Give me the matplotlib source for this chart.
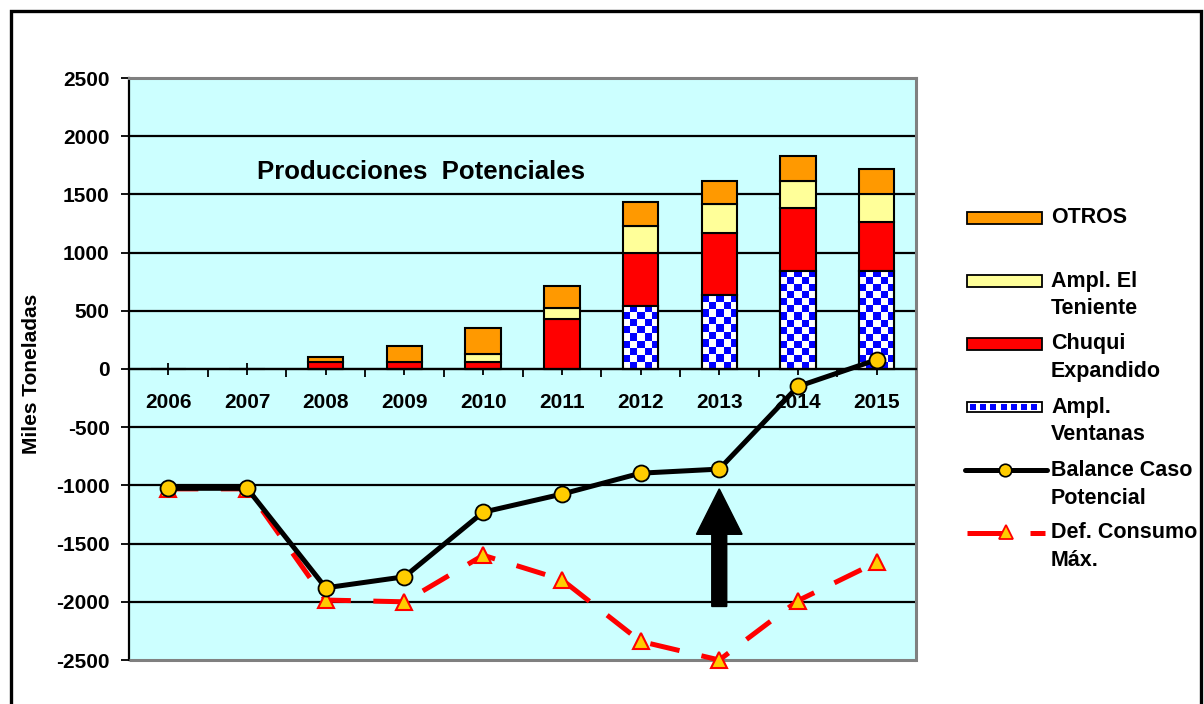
import numpy as np
import matplotlib
matplotlib.use("Agg")
import matplotlib.pyplot as plt
from matplotlib.patches import Rectangle, FancyArrow
from matplotlib.lines import Line2D

plt.rcParams['font.family'] = ['Liberation Sans', 'DejaVu Sans']
plt.rcParams['font.weight'] = 'bold'
plt.rcParams['axes.unicode_minus'] = False

# Datos (miles de toneladas)
anios = ['2006', '2007', '2008', '2009', '2010', '2011', '2012', '2013', '2014', '2015']
ventanas = [0, 0, 0, 0, 0, 0, 545, 640, 845, 845]
chuqui = [0, 0, 60, 60, 60, 430, 455, 525, 540, 420]
teniente = [0, 0, 0, 0, 70, 90, 230, 250, 230, 235]
otros = [0, 0, 40, 140, 220, 195, 205, 200, 215, 215]
balance = [-1025, -1025, -1880, -1785, -1230, -1075, -895, -860, -150, 80]
def_consumo = [-1030, -1030, -1985, -2000, -1600, -1810, -2340, -2500, -1990, -1660]

y_ticks = list(range(-2500, 2501, 500))
titulo = "Producciones  Potenciales"
flecha_anio = 7          # 2013
flecha_y = (-2040, -1030)

c_otros = '#FF9900'
c_teniente = '#FFFF99'
c_chuqui = '#FF0000'
c_azul = '#0000FF'
c_fondo = '#CCFFFF'
c_marc = '#FFCC00'

W, H = 1204, 704
fig = plt.figure(figsize=(W / 100, H / 100), dpi=100)
ax = fig.add_axes([129 / W, 1 - 660 / H, 787 / W, 582 / H])
ax.set_facecolor(c_fondo)

x = np.arange(len(anios))
ancho = 0.45
ax.set_xlim(-0.5, len(anios) - 0.5)
ax.set_ylim(-2500, 2500)

# grilla horizontal
for yv in y_ticks[1:-1]:
    ax.axhline(yv, color='black', lw=1.6, zorder=1)

# barras apiladas
ventanas = np.array(ventanas)
chuqui = np.array(chuqui)
teniente = np.array(teniente)
otros = np.array(otros)
fig.canvas.draw()
px_y = ax.transData.transform((0, 1))[1] - ax.transData.transform((0, 0))[1]

barras_v = ax.bar(x, ventanas, ancho, color='white', edgecolor='black', lw=1.5, zorder=3)
for b, h in zip(barras_v, ventanas):
    if h <= 0:
        continue
    filas = max(1, int(round(h * px_y / 7.2)))
    tablero = (np.indices((filas, 5)).sum(axis=0) % 2).astype(float)
    x0 = b.get_x()
    img = ax.imshow(tablero, cmap=matplotlib.colors.ListedColormap(['white', c_azul]),
                    extent=[x0, x0 + ancho, 0, h], aspect='auto', interpolation='nearest',
                    origin='lower', zorder=3.5)
    img.set_clip_path(b)
    ax.add_patch(Rectangle((x0, 0), ancho, h, fill=False, edgecolor='black', lw=1.5, zorder=3.6))

base = ventanas.copy()
for vals, col in [(chuqui, c_chuqui), (teniente, c_teniente), (otros, c_otros)]:
    m = vals > 0
    ax.bar(x[m], vals[m], ancho, bottom=base[m], color=col, edgecolor='black', lw=1.5, zorder=3)
    base = base + vals
ax.set_xlim(-0.5, len(anios) - 0.5)
ax.set_ylim(-2500, 2500)

# lineas
ax.plot(x, def_consumo, color='red', lw=3.6, dashes=(6, 4.5), marker='^', markersize=12,
        markerfacecolor=c_marc, markeredgecolor='red', markeredgewidth=1.5, zorder=10,
        clip_on=False)
ax.plot(x, balance, color='black', lw=3.6, marker='o', markersize=11.5,
        markerfacecolor=c_marc, markeredgecolor='black', markeredgewidth=1.3, zorder=11,
        clip_on=False)

# flecha
ax.add_patch(FancyArrow(flecha_anio, flecha_y[0], 0, flecha_y[1] - flecha_y[0], width=0.19,
                        head_width=0.58, head_length=390, length_includes_head=True,
                        color='black', zorder=7))

ax.text(0.371, 0.8385, titulo, transform=ax.transAxes, ha='center', va='center',
        fontsize=18.5, fontweight='bold', zorder=8)

# ejes
ax.spines['bottom'].set_position(('data', 0))
ax.spines['bottom'].set_color('black')
ax.spines['bottom'].set_linewidth(1.6)
ax.spines['bottom'].set_zorder(4)
ax.spines['left'].set_color('black')
ax.spines['left'].set_linewidth(1.6)
for s in ['top', 'right']:
    ax.spines[s].set_color('#808080')
    ax.spines[s].set_linewidth(2.2)
ax.add_patch(Rectangle((0, 0), 1, 0, transform=ax.transAxes, fill=False, edgecolor='#808080',
                       lw=2.2, clip_on=False, zorder=9))

ax.set_xticks(x)
ax.set_xticklabels(anios, fontsize=15, fontweight='bold')
ax.set_xticks(np.arange(-0.5, len(anios), 1), minor=True)
ax.tick_params(axis='x', which='major', direction='inout', length=8, width=1.3, pad=13)
ax.tick_params(axis='x', which='minor', direction='out', length=6, width=1.3)
ax.set_yticks(y_ticks)
ax.set_yticklabels([str(v) for v in y_ticks], fontsize=15, fontweight='bold')
ax.tick_params(axis='y', direction='out', length=6, width=1.3, pad=8)

fig.text(32 / W, 1 - 374 / H, 'Miles Toneladas', rotation=90, ha='center', va='center',
         fontsize=15, fontweight='bold')

# leyenda manual
def fx(p):
    return p / W

def fy(p):
    return 1 - p / H

entradas = ['OTROS', 'Ampl. El\nTeniente', 'Chuqui\nExpandido', 'Ampl.\nVentanas',
            'Balance Caso\nPotencial', 'Def. Consumo\nMáx.']
y0 = 218
paso = 63
for i, txt in enumerate(entradas):
    yc = y0 + paso * i
    lineas = txt.split('\n')
    for j, l in enumerate(lineas):
        fig.text(fx(1051), fy(yc + 28 * j), l, ha='left', va='center', fontsize=15.5,
                 fontweight='bold')
    if i < 3:
        col = [c_otros, c_teniente, c_chuqui][i]
        fig.patches.append(Rectangle((fx(967), fy(yc + 6)), fx(1042) - fx(967), 12 / H,
                                     transform=fig.transFigure, facecolor=col,
                                     edgecolor='black', lw=1.3))
    elif i == 3:
        fig.patches.append(Rectangle((fx(967), fy(yc + 5)), fx(1042) - fx(967), 10 / H,
                                     transform=fig.transFigure, facecolor='white',
                                     edgecolor='black', lw=1.3))
        for k in range(7):
            fig.patches.append(Rectangle((fx(970 + 10.2 * k), fy(yc + 3)), 6 / W, 6 / H,
                                         transform=fig.transFigure, facecolor=c_azul,
                                         edgecolor='none'))
    elif i == 4:
        fig.lines.append(Line2D([fx(965), fx(1047)], [fy(yc), fy(yc)], transform=fig.transFigure,
                                color='black', lw=3.6, solid_capstyle='round'))
        fig.lines.append(Line2D([fx(1005)], [fy(yc)], transform=fig.transFigure, marker='o',
                                markersize=9, markerfacecolor=c_marc, markeredgecolor='black',
                                markeredgewidth=1.2))
    else:
        fig.lines.append(Line2D([fx(967), fx(1002)], [fy(yc), fy(yc)], transform=fig.transFigure,
                                color='red', lw=3.6, solid_capstyle='butt'))
        fig.lines.append(Line2D([fx(1030), fx(1045)], [fy(yc), fy(yc)], transform=fig.transFigure,
                                color='red', lw=3.6, solid_capstyle='butt'))
        fig.lines.append(Line2D([fx(1006)], [fy(yc - 1)], transform=fig.transFigure, marker='^',
                                markersize=10, markerfacecolor=c_marc, markeredgecolor='red',
                                markeredgewidth=1.3))

# marco exterior
fig.patches.append(Rectangle((fx(11), -0.05), fx(1201) - fx(11), fy(11) + 0.05,
                             transform=fig.transFigure, fill=False, edgecolor='black', lw=2.4))

fig.savefig('out.png', dpi=100, facecolor='white')
